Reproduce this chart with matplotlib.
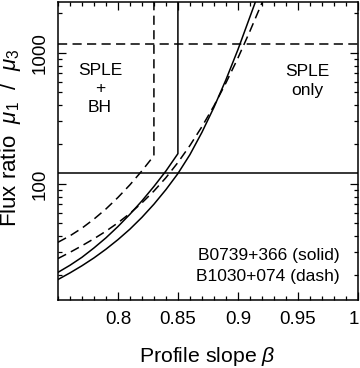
import numpy as np
import matplotlib

matplotlib.use("Agg")
import matplotlib.pyplot as plt
import matplotlib.transforms as mtransforms
from matplotlib.ticker import FixedLocator, LogLocator, NullFormatter, MultipleLocator


plt.rcParams["font.family"] = "Liberation Sans"
plt.rcParams["mathtext.fontset"] = "custom"
plt.rcParams["mathtext.rm"] = "Liberation Sans"
plt.rcParams["mathtext.it"] = "Liberation Sans:italic"

# B0739+366 (solid), SPLE only
solid_only_beta = [0.75, 0.76, 0.77, 0.78, 0.79, 0.80, 0.81, 0.82, 0.83, 0.84, 0.85,
                   0.86, 0.87, 0.88, 0.89, 0.90, 0.91, 0.92]
solid_only_flux = [18.6, 20.9, 23.7, 27.2, 31.7, 37.5, 45.1, 55.5, 69.9, 90.3, 119.8,
                   167, 247, 383, 622, 1056, 1877, 3338]

# B0739+366 (solid), SPLE + BH, ends at beta = 0.85
solid_bh_beta = [0.75, 0.76, 0.77, 0.78, 0.79, 0.80, 0.81, 0.82, 0.83, 0.84, 0.85]
solid_bh_flux = [21.1, 23.9, 27.5, 32.4, 38.7, 47.2, 58.6, 74.1, 95.5, 125.3, 170]
solid_cut = 0.85
solid_limit = 120

# B1030+074 (dash), SPLE only
dash_only_beta = [0.75, 0.76, 0.77, 0.78, 0.79, 0.80, 0.81, 0.82, 0.83, 0.84, 0.85,
                  0.86, 0.87, 0.88, 0.89, 0.90, 0.91, 0.92, 0.93]
dash_only_flux = [26.9, 30.0, 33.7, 38.1, 43.5, 50.4, 59.5, 71.6, 88.1, 111.4, 145.5,
                  196, 273, 393, 589, 911, 1461, 2398, 3900]

# B1030+074 (dash), SPLE + BH, ends at beta = 0.83
dash_bh_beta = [0.75, 0.76, 0.77, 0.78, 0.79, 0.80, 0.81, 0.82, 0.83]
dash_bh_flux = [35.8, 40.1, 45.9, 53.8, 64.3, 78.7, 98.3, 125.7, 164]
dash_cut = 0.83
dash_limit = 1170

xlim = (0.75, 1.0)
ylim = (13, 2450)
xticks = [0.8, 0.85, 0.9, 0.95, 1.0]
xticklabels = ["0.8", "0.85", "0.9", "0.95", "1"]
yticks = [100, 1000]
yticklabels = ["100", "1000"]

dash = (0, (6, 3.5))

fig = plt.figure(figsize=(3.6, 3.68), dpi=100)
ax = fig.add_axes([0.161, 0.185, 0.833, 0.81])

ax.plot(solid_only_beta, solid_only_flux, color="black", lw=1.1)
ax.plot(solid_bh_beta + [solid_cut], solid_bh_flux + [ylim[1] * 2], color="black", lw=1.1)
ax.axhline(solid_limit, color="black", lw=1.1)

ax.plot(dash_only_beta, dash_only_flux, color="black", lw=1.1, linestyle=dash)
ax.plot(dash_bh_beta + [dash_cut], dash_bh_flux + [ylim[1] * 2], color="black", lw=1.1, linestyle=dash)
ax.axhline(dash_limit, color="black", lw=1.1, linestyle=dash)

ax.set_yscale("log")
ax.set_xlim(*xlim)
ax.set_ylim(*ylim)

ax.xaxis.set_major_locator(FixedLocator(xticks))
ax.set_xticklabels(xticklabels)
ax.xaxis.set_minor_locator(MultipleLocator(0.01))

ax.yaxis.set_major_locator(FixedLocator(yticks))
ax.set_yticklabels(yticklabels)
ax.yaxis.set_minor_locator(LogLocator(base=10, subs=np.arange(2, 10)))
ax.yaxis.set_minor_formatter(NullFormatter())
plt.setp(ax.get_yticklabels(), rotation=90, va="center")

ax.tick_params(which="both", direction="in", top=True, right=True, width=0.9, labelsize=13.5)
ax.tick_params(which="major", length=5.5)
ax.tick_params(which="minor", length=3.2)
ax.tick_params(axis="x", pad=8)
ax.tick_params(axis="y", pad=7)
for s in ax.spines.values():
    s.set_linewidth(1.1)

# keep the "1" at the right edge inside the picture
last = ax.get_xticklabels()[-1]
last.set_transform(last.get_transform() + mtransforms.ScaledTranslation(-3 / 72, 0, fig.dpi_scale_trans))

fig.text(207.5 / 360, 1 - 362.5 / 368, r"Profile slope $\beta$", fontsize=15.3,
         ha="center", va="baseline")
fig.text(16.5 / 360, 1 - 138 / 368, r"Flux ratio  $\mu_1$  /  $\mu_3$", fontsize=16,
         rotation=90, rotation_mode="anchor", ha="center", va="baseline")

ax.text(0.14, 0.708, "SPLE\n+\nBH", transform=ax.transAxes, ha="center", va="center",
        multialignment="center", fontsize=12.5, linespacing=1.28)
ax.text(0.83, 0.735, "SPLE\nonly", transform=ax.transAxes, ha="center", va="center",
        multialignment="center", fontsize=12.5, linespacing=1.28)
ax.text(0.94, 0.148, "B0739+366 (solid)", transform=ax.transAxes, ha="right", va="center", fontsize=12.5)
ax.text(0.94, 0.077, "B1030+074 (dash)", transform=ax.transAxes, ha="right", va="center", fontsize=12.5)

fig.savefig("out.png", dpi=100)
